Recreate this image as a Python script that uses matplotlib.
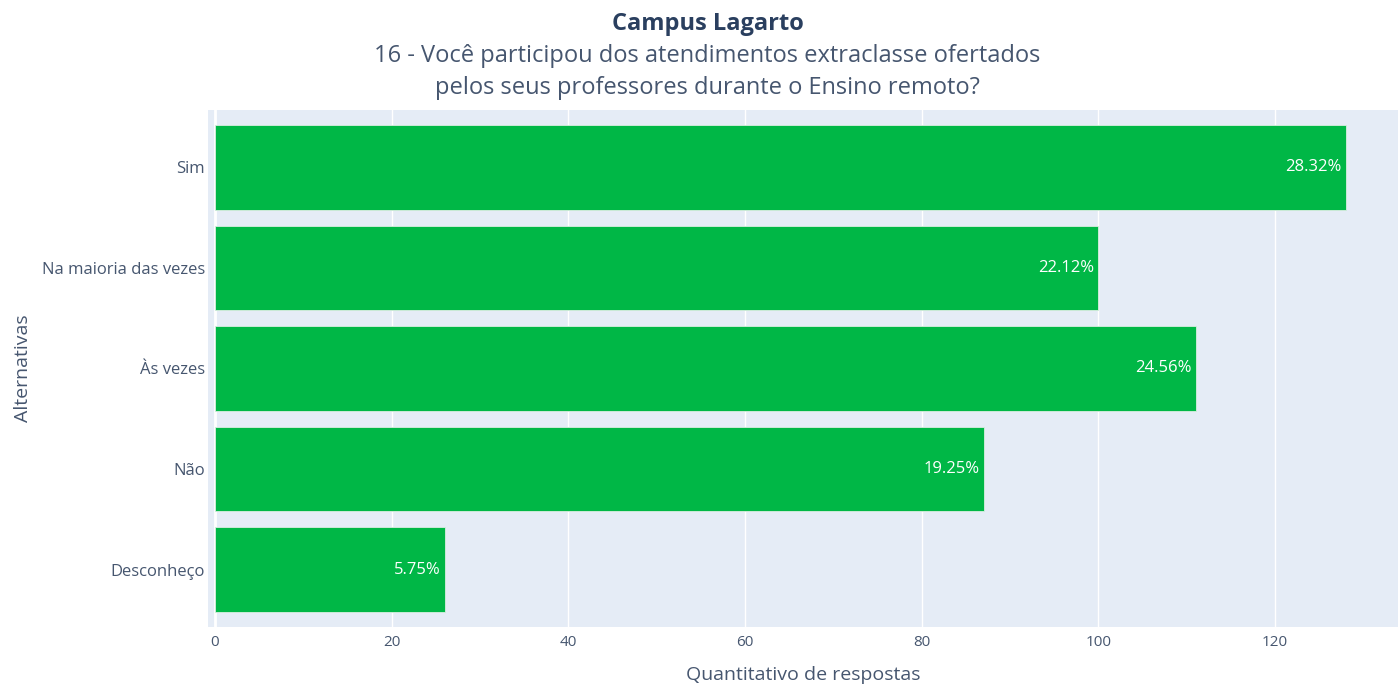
import matplotlib
matplotlib.use("Agg")
import matplotlib.pyplot as plt

categorias = ["Sim", "Na maioria das vezes", "Às vezes", "Não", "Desconheço"]
respostas = [128, 100, 111, 87, 26]
percentuais = ["28.32%", "22.12%", "24.56%", "19.25%", "5.75%"]
xticks = [0, 20, 40, 60, 80, 100, 120]

plt.rcParams["font.family"] = ["Open Sans", "DejaVu Sans"]
txt = "#2a3f5f"
txt_light = "#46566f"
bg = "#e5ecf6"
green = "#00b746"

fig = plt.figure(figsize=(13.98, 6.85), dpi=100)
ax = fig.add_axes([208 / 1398, 58 / 685, 1190 / 1398, 517 / 685])
ax.set_facecolor(bg)

ypos = list(range(len(categorias)))
bars = ax.barh(ypos, respostas, height=0.84, color=green,
               edgecolor="#d9eee0", linewidth=0.6, zorder=3)
for b, lab in zip(bars, percentuais):
    ax.text(b.get_width() - 0.5, b.get_y() + b.get_height() / 2, lab,
            ha="right", va="center", color="white", fontsize=12, zorder=4)

ax.set_yticks(ypos)
ax.set_yticklabels(categorias)
ax.set_ylim(len(categorias) - 0.43, -0.57)
ax.set_xlim(-0.79, 133.9)
ax.set_xticks(xticks)
ax.grid(axis="x", color="white", linewidth=1, zorder=1)
ax.axvline(0, color="white", linewidth=2, zorder=2)
for s in ax.spines.values():
    s.set_visible(False)
ax.tick_params(length=0, colors=txt_light, labelsize=11)
ax.tick_params(axis="y", pad=2, labelsize=12)
ax.tick_params(axis="x", pad=6)

ax.set_xlabel("Quantitativo de respostas", color=txt_light, fontsize=14, labelpad=11)
ax.set_ylabel("Alternativas", color=txt_light, fontsize=14)
ax.yaxis.set_label_coords(-0.148, 0.5)

fig.text(0.506, 1 - 24 / 685, "Campus Lagarto", ha="center", va="center",
         fontsize=17, fontweight="bold", color=txt)
fig.text(0.506, 1 - 72 / 685,
         "16 - Você participou dos atendimentos extraclasse ofertados\npelos seus professores durante o Ensino remoto?",
         ha="center", va="center", fontsize=17, color=txt_light, linespacing=1.4)

fig.savefig("out.png", dpi=100)
